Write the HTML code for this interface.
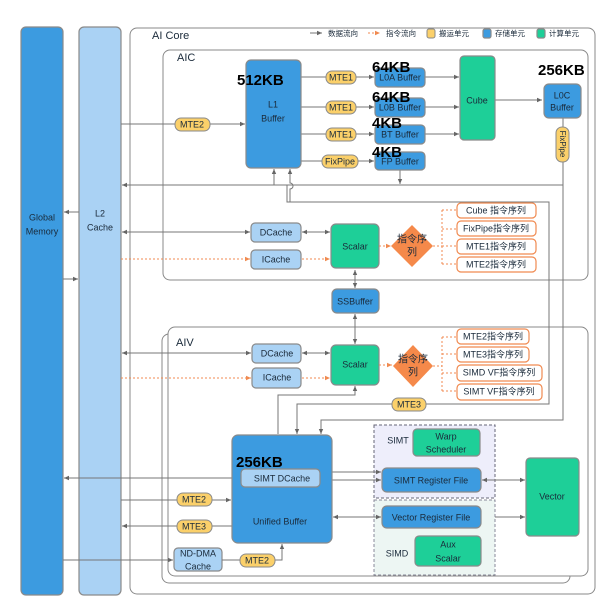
<!DOCTYPE html>
<html><head><meta charset="utf-8"><style>
body{margin:0;background:#fff}
svg{display:block}
text{font-family:"Liberation Sans","Noto Sans CJK SC",sans-serif;fill:#1a2a3a}
.t{font-size:9px;text-anchor:middle;dominant-baseline:middle}
.kb{font-size:15px;font-weight:bold;fill:#000}
.ln{stroke:#777;stroke-width:1;fill:none}
.dl{stroke:#f08a50;stroke-width:1;fill:none;stroke-dasharray:2,2}
.b{fill:#3c9be0;stroke:#8a8a8a;stroke-width:1.2}
.lb{fill:#aad2f4;stroke:#8a8a8a;stroke-width:1.2}
.g{fill:#1ecf98;stroke:#8a8a8a;stroke-width:1.2}
.y{fill:#fbd06a;stroke:#8a8a8a;stroke-width:1}
.o{fill:#fff;stroke:#f08a50;stroke-width:1.2}
</style></head><body>
<svg width="603" height="610" viewBox="0 0 603 610" xmlns="http://www.w3.org/2000/svg">
<defs>
<marker id="a" markerWidth="6" markerHeight="6" refX="5" refY="3" orient="auto"><path d="M0,0.8 L5,3 L0,5.2z" fill="#666"/></marker>
<marker id="s" markerWidth="6" markerHeight="6" refX="1" refY="3" orient="auto"><path d="M6,0.8 L1,3 L6,5.2z" fill="#666"/></marker>
<marker id="ao" markerWidth="6" markerHeight="6" refX="5" refY="3" orient="auto"><path d="M0,0.8 L5,3 L0,5.2z" fill="#f08a50"/></marker>
</defs>
<!-- containers -->
<rect x="130" y="28" width="465" height="566" rx="7" fill="#fff" stroke="#888"/>
<rect x="163" y="50" width="425" height="230" rx="7" fill="#fff" stroke="#888"/>
<rect x="162" y="334" width="408" height="249" rx="7" fill="#fff" stroke="#888"/>
<rect x="168" y="327" width="420" height="249" rx="7" fill="#fff" stroke="#888"/>
<text x="152" y="39" style="font-size:11px">AI Core</text>
<text x="177" y="61" style="font-size:11px">AIC</text>
<text x="176" y="346" style="font-size:11px">AIV</text>
<!-- legend -->
<line x1="310" y1="33" x2="322" y2="33" class="ln" marker-end="url(#a)"/>
<text x="328" y="36" style="font-size:7.5px">数据流向</text>
<line x1="368" y1="33" x2="380" y2="33" class="dl" marker-end="url(#ao)"/>
<text x="386" y="36" style="font-size:7.5px">指令流向</text>
<rect x="427" y="29" width="8" height="9" rx="2" class="y"/><text x="439" y="36" style="font-size:7.5px">搬运单元</text>
<rect x="483" y="29" width="8" height="9" rx="2" class="b"/><text x="495" y="36" style="font-size:7.5px">存储单元</text>
<rect x="537" y="29" width="8" height="9" rx="2" class="g"/><text x="549" y="36" style="font-size:7.5px">计算单元</text>
<!-- GM L2 -->
<rect x="21" y="27" width="42" height="568" rx="5" class="b"/>
<text class="t" x="42" y="218">Global</text><text class="t" x="42" y="232">Memory</text>
<rect x="79" y="27" width="42" height="568" rx="5" class="lb"/>
<text class="t" x="100" y="214">L2</text><text class="t" x="100" y="228">Cache</text>
<line x1="79" y1="212" x2="64" y2="212" class="ln" marker-end="url(#a)"/>
<line x1="63" y1="279" x2="78" y2="279" class="ln" marker-end="url(#a)"/>
<!-- AIC lines -->
<line x1="121" y1="124" x2="245" y2="124" class="ln" marker-end="url(#a)"/>
<line x1="301" y1="77" x2="374" y2="77" class="ln" marker-end="url(#a)"/>
<line x1="301" y1="107" x2="374" y2="107" class="ln" marker-end="url(#a)"/>
<line x1="301" y1="134" x2="374" y2="134" class="ln" marker-end="url(#a)"/>
<line x1="301" y1="161" x2="374" y2="161" class="ln" marker-end="url(#a)"/>
<line x1="425" y1="77" x2="459" y2="77" class="ln" marker-end="url(#a)"/>
<line x1="425" y1="107" x2="459" y2="107" class="ln" marker-end="url(#a)"/>
<line x1="425" y1="134" x2="459" y2="134" class="ln" marker-end="url(#a)"/>
<line x1="495" y1="100" x2="542" y2="100" class="ln" marker-end="url(#a)"/>
<line x1="400" y1="170" x2="400" y2="184" class="ln" marker-end="url(#a)"/>
<path d="M563,118 V185 H122" class="ln" marker-end="url(#a)"/>
<line x1="274" y1="185" x2="274" y2="169" class="ln" marker-end="url(#a)"/>
<path d="M290,202 V189 a3,3 0 0 0 0,-6 V169" class="ln" marker-end="url(#a)"/>
<path d="M287,185 V202 H549 V404 H297 V434" class="ln" marker-end="url(#a)"/>
<path d="M563,160 V420 H321 V434" class="ln" marker-end="url(#a)"/>
<!-- AIC nodes -->
<rect x="246" y="60" width="55" height="108" rx="5" class="b"/>
<text class="t" x="273" y="105">L1</text><text class="t" x="273" y="119">Buffer</text>
<text class="kb" x="237" y="85">512KB</text>
<rect x="175" y="118" width="35" height="13" rx="6" class="y"/><text class="t" x="192" y="125">MTE2</text>
<rect x="326" y="71" width="30" height="13" rx="6" class="y"/><text class="t" x="341" y="78">MTE1</text>
<rect x="326" y="101" width="30" height="13" rx="6" class="y"/><text class="t" x="341" y="108">MTE1</text>
<rect x="326" y="128" width="30" height="13" rx="6" class="y"/><text class="t" x="341" y="135">MTE1</text>
<rect x="322" y="155" width="36" height="13" rx="6" class="y"/><text class="t" x="340" y="162">FixPipe</text>
<rect x="375" y="68" width="50" height="19" rx="4" class="b"/><text class="t" x="400" y="78">L0A Buffer</text>
<rect x="375" y="98" width="50" height="19" rx="4" class="b"/><text class="t" x="400" y="108">L0B Buffer</text>
<rect x="375" y="125" width="50" height="19" rx="4" class="b"/><text class="t" x="400" y="135">BT Buffer</text>
<rect x="375" y="152" width="50" height="18" rx="4" class="b"/><text class="t" x="400" y="162">FP Buffer</text>
<text class="kb" x="372" y="72">64KB</text>
<text class="kb" x="372" y="102">64KB</text>
<text class="kb" x="372" y="128">4KB</text>
<text class="kb" x="372" y="157">4KB</text>
<rect x="460" y="56" width="35" height="84" rx="4" class="g"/><text class="t" x="477" y="101">Cube</text>
<text class="kb" x="538" y="75">256KB</text>
<rect x="544" y="84" width="37" height="34" rx="5" class="b"/>
<text class="t" x="562" y="96">L0C</text><text class="t" x="562" y="108">Buffer</text>
<rect x="556" y="127" width="13" height="35" rx="6" class="y"/>
<text class="t" x="562" y="144" transform="rotate(90 562 144)" style="font-size:8px">FixPipe</text>
<!-- AIC scalar area -->
<line x1="122" y1="232" x2="250" y2="232" class="ln" marker-start="url(#s)" marker-end="url(#a)"/>
<line x1="121" y1="259" x2="250" y2="259" class="dl" marker-end="url(#ao)"/>
<line x1="302" y1="232" x2="330" y2="232" class="ln" marker-start="url(#s)" marker-end="url(#a)"/>
<line x1="302" y1="259" x2="330" y2="259" class="dl" marker-end="url(#ao)"/>
<rect x="251" y="223" width="50" height="19" rx="4" class="lb"/><text class="t" x="276" y="233">DCache</text>
<rect x="251" y="250" width="50" height="19" rx="4" class="lb"/><text class="t" x="276" y="260">ICache</text>
<rect x="331" y="224" width="48" height="44" rx="5" class="g"/><text class="t" x="355" y="247">Scalar</text>
<line x1="379" y1="246" x2="391" y2="246" class="dl" marker-end="url(#ao)"/>
<path d="M412,225 L433,246 L412,267 L391,246z" fill="#f5894a"/>
<text class="t" x="412" y="240" style="font-size:10px">指令序</text><text class="t" x="412" y="253" style="font-size:10px">列</text>
<path d="M433,246 H442 M442,210 V264 M442,210 H456 M442,229 H456 M442,246 H456 M442,264 H456" class="dl"/>
<rect x="457" y="203" width="79" height="15" rx="4" class="o"/><text class="t" x="496" y="211">Cube 指令序列</text>
<rect x="457" y="221" width="79" height="15" rx="4" class="o"/><text class="t" x="496" y="229">FixPipe指令序列</text>
<rect x="457" y="239" width="79" height="15" rx="4" class="o"/><text class="t" x="496" y="247">MTE1指令序列</text>
<rect x="457" y="257" width="79" height="15" rx="4" class="o"/><text class="t" x="496" y="265">MTE2指令序列</text>
<!-- SSBuffer -->
<line x1="355" y1="270" x2="355" y2="288" class="ln" marker-start="url(#s)" marker-end="url(#a)"/>
<line x1="355" y1="314" x2="355" y2="344" class="ln" marker-start="url(#s)" marker-end="url(#a)"/>
<rect x="332" y="289" width="47" height="24" rx="5" class="b"/><text class="t" x="355" y="302">SSBuffer</text>
<!-- AIV scalar area -->
<line x1="122" y1="353" x2="251" y2="353" class="ln" marker-start="url(#s)" marker-end="url(#a)"/>
<line x1="121" y1="378" x2="251" y2="378" class="dl" marker-end="url(#ao)"/>
<line x1="302" y1="353" x2="330" y2="353" class="ln" marker-start="url(#s)" marker-end="url(#a)"/>
<line x1="302" y1="378" x2="330" y2="378" class="dl" marker-end="url(#ao)"/>
<rect x="252" y="344" width="49" height="19" rx="4" class="lb"/><text class="t" x="277" y="354">DCache</text>
<rect x="252" y="368" width="49" height="20" rx="4" class="lb"/><text class="t" x="277" y="378">ICache</text>
<rect x="331" y="345" width="48" height="40" rx="5" class="g"/><text class="t" x="355" y="365">Scalar</text>
<line x1="379" y1="365" x2="392" y2="365" class="dl" marker-end="url(#ao)"/>
<path d="M413,345 L433,366 L413,387 L393,366z" fill="#f5894a"/>
<text class="t" x="413" y="360" style="font-size:10px">指令序</text><text class="t" x="413" y="373" style="font-size:10px">列</text>
<path d="M433,366 H442 M442,337 V391 M442,337 H456 M442,354 H456 M442,373 H456 M442,391 H456" class="dl"/>
<rect x="457" y="329" width="72" height="15" rx="4" class="o"/><text class="t" x="493" y="337">MTE2指令序列</text>
<rect x="457" y="347" width="72" height="15" rx="4" class="o"/><text class="t" x="493" y="355">MTE3指令序列</text>
<rect x="457" y="365" width="85" height="16" rx="4" class="o"/><text class="t" x="499" y="373">SIMD VF指令序列</text>
<rect x="457" y="384" width="85" height="16" rx="4" class="o"/><text class="t" x="499" y="392">SIMT VF指令序列</text>
<path d="M278,434 V395 H355 V386" class="ln" marker-end="url(#a)"/>
<rect x="392" y="398" width="34" height="13" rx="6" class="y"/><text class="t" x="409" y="405">MTE3</text>
<!-- dashed boxes -->
<rect x="374" y="425" width="121" height="73" fill="#eeeefb" stroke="#667" stroke-dasharray="3,2"/>
<rect x="374" y="500" width="121" height="75" fill="#edf6f3" stroke="#889" stroke-dasharray="3,2"/>
<text class="t" x="398" y="441">SIMT</text>
<rect x="413" y="429" width="67" height="27" rx="4" class="g"/><text class="t" x="446" y="437">Warp</text><text class="t" x="446" y="450">Scheduler</text>
<rect x="382" y="468" width="99" height="24" rx="5" class="b"/><text class="t" x="431" y="481">SIMT Register File</text>
<rect x="382" y="506" width="99" height="22" rx="5" class="b"/><text class="t" x="431" y="518">Vector Register File</text>
<text class="t" x="397" y="554">SIMD</text>
<rect x="415" y="536" width="66" height="30" rx="4" class="g"/><text class="t" x="448" y="545">Aux</text><text class="t" x="448" y="559">Scalar</text>
<rect x="526" y="458" width="53" height="78" rx="4" class="g"/><text class="t" x="552" y="497">Vector</text>
<!-- UB -->
<line x1="64" y1="478" x2="240" y2="478" class="ln" marker-start="url(#s)" marker-end="url(#a)"/>
<line x1="121" y1="500" x2="231" y2="500" class="ln" marker-end="url(#a)"/>
<line x1="232" y1="526" x2="122" y2="526" class="ln" marker-end="url(#a)"/>
<line x1="63" y1="560" x2="173" y2="560" class="ln" marker-end="url(#a)"/>
<line x1="322" y1="472" x2="381" y2="472" class="ln" marker-start="url(#s)" marker-end="url(#a)"/>
<line x1="322" y1="480" x2="381" y2="480" class="ln" marker-start="url(#s)" marker-end="url(#a)"/>
<line x1="333" y1="517" x2="381" y2="517" class="ln" marker-start="url(#s)" marker-end="url(#a)"/>
<line x1="482" y1="480" x2="525" y2="480" class="ln" marker-start="url(#s)" marker-end="url(#a)"/>
<line x1="495" y1="517" x2="525" y2="517" class="ln" marker-end="url(#a)"/>
<rect x="232" y="435" width="100" height="108" rx="6" class="b"/>
<text class="kb" x="236" y="467" style="font-size:15px">256KB</text>
<rect x="241" y="469" width="79" height="18" rx="4" class="lb"/><text class="t" x="282" y="479">SIMT DCache</text>
<text class="t" x="280" y="522">Unified Buffer</text>
<rect x="177" y="493" width="35" height="13" rx="6" class="y"/><text class="t" x="194" y="500">MTE2</text>
<rect x="177" y="520" width="35" height="13" rx="6" class="y"/><text class="t" x="194" y="527">MTE3</text>
<rect x="174" y="548" width="48" height="23" rx="4" class="lb"/><text class="t" x="198" y="554">ND-DMA</text><text class="t" x="198" y="567">Cache</text>
<path d="M222,560 H282 V544" class="ln" marker-end="url(#a)"/>
<rect x="240" y="554" width="35" height="13" rx="6" class="y"/><text class="t" x="257" y="561">MTE2</text>
</svg>
</body></html>
